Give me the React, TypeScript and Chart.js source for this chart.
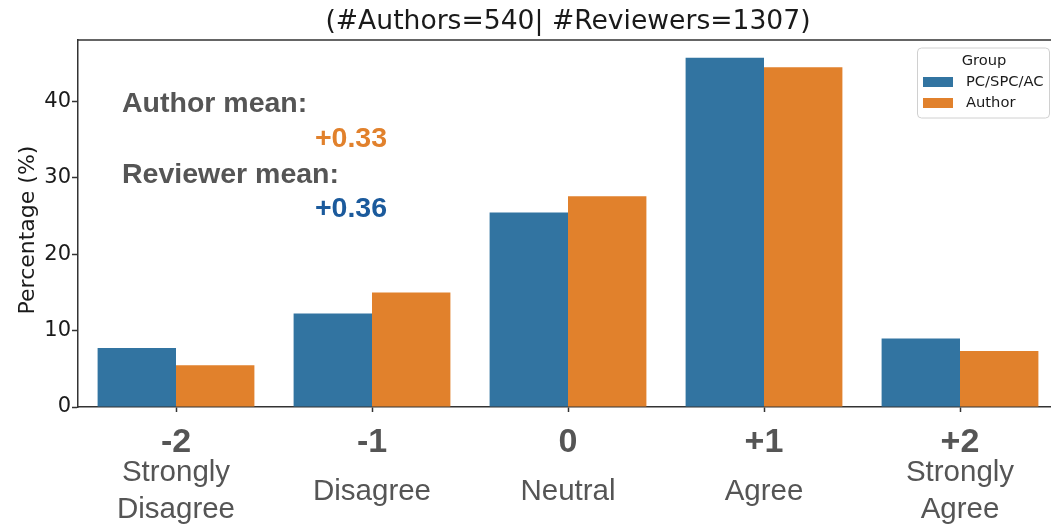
import React, { useEffect, useRef } from 'react';
import { Chart, registerables } from 'chart.js';

Chart.register(...registerables);

const categories = ['-2', '-1', '0', '+1', '+2'];
const categoryNames = [['Strongly', 'Disagree'], ['Disagree'], ['Neutral'], ['Agree'], ['Strongly', 'Agree']];
const reviewerValues = [7.72, 12.22, 25.44, 45.67, 8.95];
const authorValues = [5.46, 14.97, 27.57, 44.45, 7.33];
const yTicks = [0, 10, 20, 30, 40];
const seriesNames = ['PC/SPC/AC', 'Author'];
const chartTitle = '(#Authors=540| #Reviewers=1307)';
const yLabel = 'Percentage (%)';
const legendTitle = 'Group';
const authorMeanLabel = 'Author mean:';
const authorMean = '+0.33';
const reviewerMeanLabel = 'Reviewer mean:';
const reviewerMean = '+0.36';

const BLUE = '#3274a1';
const ORANGE = '#e1812c';
const GRAY = '#555555';
const SANS = '"Liberation Sans", Arial, sans-serif';
const DEJAVU = '"DejaVu Sans", sans-serif';

const decorPlugin = {
  id: 'decor',
  afterDraw(chart: any) {
    const ctx = chart.ctx as CanvasRenderingContext2D;
    const area = chart.chartArea;
    const xs = chart.scales.x;
    ctx.save();
    // top & right spines
    ctx.strokeStyle = '#333';
    ctx.lineWidth = 1.5;
    ctx.beginPath();
    ctx.moveTo(area.left, area.top);
    ctx.lineTo(area.right, area.top);
    ctx.lineTo(area.right, area.bottom);
    ctx.stroke();

    // title
    ctx.fillStyle = '#1a1a1a';
    ctx.font = '26.6px ' + DEJAVU;
    ctx.textAlign = 'center';
    ctx.textBaseline = 'middle';
    ctx.fillText(chartTitle, (area.left + area.right) / 2, 22);

    // y label
    ctx.save();
    ctx.translate(28, 230);
    ctx.rotate(-Math.PI / 2);
    ctx.font = '22px ' + DEJAVU;
    ctx.fillStyle = '#1a1a1a';
    ctx.textAlign = 'center';
    ctx.textBaseline = 'middle';
    ctx.fillText(yLabel, 0, 0);
    ctx.restore();

    // x labels
    ctx.textAlign = 'center';
    ctx.textBaseline = 'alphabetic';
    ctx.fillStyle = GRAY;
    categories.forEach((c, i) => {
      const x = xs.getPixelForValue(i);
      ctx.font = 'bold 34px ' + SANS;
      ctx.fillText(c, x, 452);
      ctx.font = '29.5px ' + SANS;
      const lines = categoryNames[i];
      const lh = 37.3;
      const mid = 499.7;
      const start = mid - ((lines.length - 1) * lh) / 2;
      lines.forEach((ln, k) => ctx.fillText(ln, x, start + k * lh));
    });

    // annotations
    ctx.font = 'bold 28.5px ' + SANS;
    ctx.fillStyle = GRAY;
    ctx.textAlign = 'left';
    ctx.fillText(authorMeanLabel, 122, 112);
    ctx.fillText(reviewerMeanLabel, 122, 183);
    ctx.textAlign = 'right';
    ctx.fillStyle = ORANGE;
    ctx.fillText(authorMean, 387, 147);
    ctx.fillStyle = '#1b5a9c';
    ctx.fillText(reviewerMean, 387, 217);

    // legend
    const lx = 917.5, ly = 48, lw = 132, lhh = 70, r = 4;
    ctx.beginPath();
    ctx.moveTo(lx + r, ly);
    ctx.lineTo(lx + lw - r, ly);
    ctx.quadraticCurveTo(lx + lw, ly, lx + lw, ly + r);
    ctx.lineTo(lx + lw, ly + lhh - r);
    ctx.quadraticCurveTo(lx + lw, ly + lhh, lx + lw - r, ly + lhh);
    ctx.lineTo(lx + r, ly + lhh);
    ctx.quadraticCurveTo(lx, ly + lhh, lx, ly + lhh - r);
    ctx.lineTo(lx, ly + r);
    ctx.quadraticCurveTo(lx, ly, lx + r, ly);
    ctx.closePath();
    ctx.fillStyle = 'rgba(255,255,255,0.8)';
    ctx.fill();
    ctx.strokeStyle = '#d0d0d0';
    ctx.lineWidth = 1;
    ctx.stroke();

    ctx.fillStyle = '#1a1a1a';
    ctx.font = '14.7px ' + DEJAVU;
    ctx.textAlign = 'center';
    ctx.textBaseline = 'middle';
    ctx.fillText(legendTitle, 984, 61);
    const colors = [BLUE, ORANGE];
    const ys = [82, 103];
    seriesNames.forEach((n, k) => {
      ctx.fillStyle = colors[k];
      ctx.fillRect(923, ys[k] - 5, 30, 10);
      ctx.fillStyle = '#1a1a1a';
      ctx.textAlign = 'left';
      ctx.fillText(n, 966, ys[k]);
    });
    ctx.restore();
  },
};

export default function App() {
  const ref = useRef<HTMLCanvasElement | null>(null);
  useEffect(() => {
    const canvas = ref.current;
    if (!canvas) return;
    const chart = new Chart(canvas, {
      type: 'bar',
      data: {
        labels: categories,
        datasets: [
          {
            label: seriesNames[0],
            data: reviewerValues,
            backgroundColor: BLUE,
            borderWidth: 0,
            categoryPercentage: 0.8,
            barPercentage: 1,
          },
          {
            label: seriesNames[1],
            data: authorValues,
            backgroundColor: ORANGE,
            borderWidth: 0,
            categoryPercentage: 0.8,
            barPercentage: 1,
          },
        ],
      },
      options: {
        responsive: false,
        animation: false,
        devicePixelRatio: 1,
        layout: { padding: { left: 0, right: 2, top: 40, bottom: 0 } },
        plugins: {
          legend: { display: false },
          title: { display: false },
          tooltip: { enabled: false },
        },
        scales: {
          x: {
            offset: true,
            grid: {
              display: true,
              drawOnChartArea: false,
              drawTicks: true,
              offset: false,
              tickLength: 5,
              tickColor: '#333',
              tickWidth: 1.5,
            },
            border: { display: true, color: '#333', width: 1.5 },
            ticks: { callback: () => '', padding: 0 },
            afterFit: (s: any) => {
              s.height = 119;
            },
          },
          y: {
            min: 0,
            max: 48,
            grid: {
              display: true,
              drawOnChartArea: false,
              drawTicks: true,
              tickLength: 6,
              tickColor: '#333',
              tickWidth: 1.5,
            },
            border: { display: true, color: '#333', width: 1.5 },
            ticks: {
              color: '#1a1a1a',
              font: { family: DEJAVU, size: 21 },
              padding: 1,
            },
            afterBuildTicks: (s: any) => {
              s.ticks = yTicks.map((v) => ({ value: v }));
            },
            afterFit: (s: any) => {
              s.width = 78;
            },
          },
        },
      },
      plugins: [decorPlugin],
    });
    return () => chart.destroy();
  }, []);

  return (
    <div
      style={{
        position: 'fixed',
        left: 0,
        top: 0,
        width: 1051,
        height: 526,
        overflow: 'hidden',
        background: '#fff',
      }}
    >
      <canvas ref={ref} width={1060} height={526} style={{ display: 'block' }} />
    </div>
  );
}
